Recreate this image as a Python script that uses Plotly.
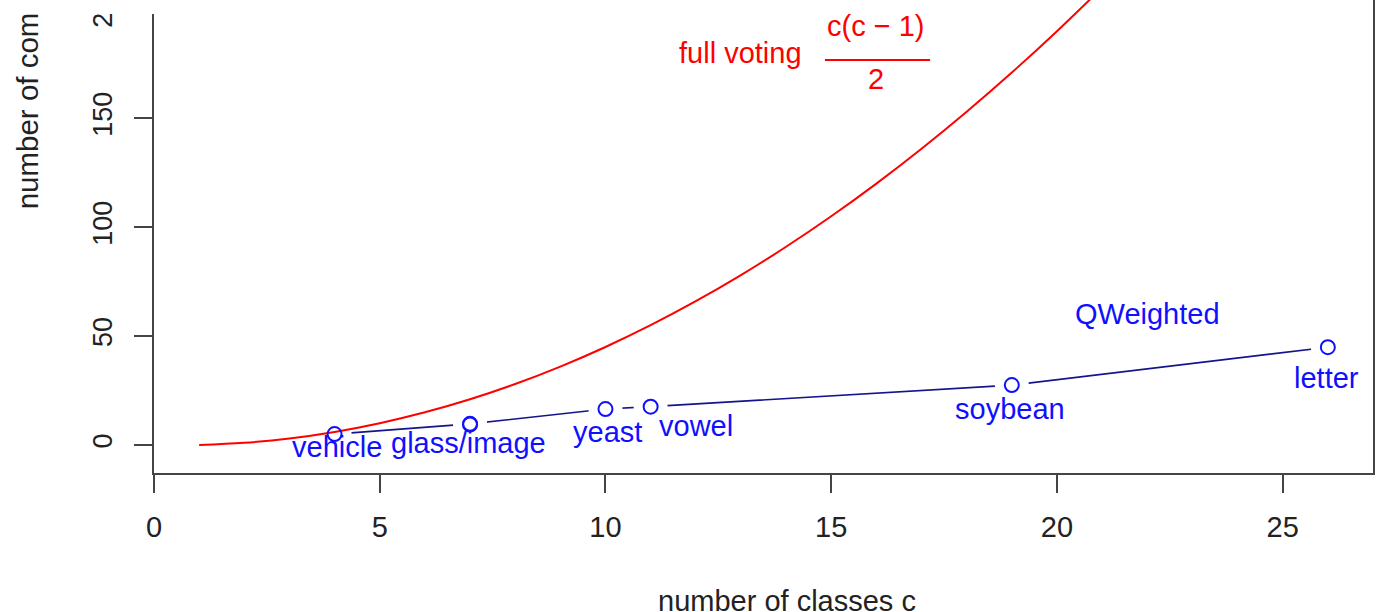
import plotly.graph_objects as go

# full voting: c(c-1)/2 for c = 1..26
full_c = list(range(1, 27))
full_y = [0, 1, 3, 6, 10, 15, 21, 28, 36, 45, 55, 66, 78, 91, 105, 120,
          136, 153, 171, 190, 210, 231, 253, 276, 300, 325]

# QWeighted average comparisons
qw_names = ["vehicle", "glass", "image", "yeast", "vowel", "soybean", "letter"]
qw_c = [4, 7, 7, 10, 11, 19, 26]
qw_y = [5.0, 9.4, 9.7, 16.5, 17.6, 27.5, 44.9]

x_ticks = [0, 5, 10, 15, 20, 25]
y_ticks = [0, 50, 100, 150, 200]

FONT = "Liberation Sans"
BLUE = "#1010ff"
RED = "#ff0000"
AX = "#444444"
H = 473  # plot area height in px

fig = go.Figure()

# connecting line (type "b")
fig.add_trace(go.Scatter(x=qw_c, y=qw_y, mode="lines",
                         line=dict(color="#14148c", width=1.6),
                         hoverinfo="skip", showlegend=False))
# white gaps around points
fig.add_trace(go.Scatter(x=qw_c, y=qw_y, mode="markers",
                         marker=dict(symbol="circle", size=34, color="white",
                                     line=dict(width=0)),
                         hoverinfo="skip", showlegend=False))
# full voting curve
fig.add_trace(go.Scatter(x=full_c, y=full_y, mode="lines",
                         line=dict(color=RED, width=2, shape="spline"),
                         hoverinfo="skip", showlegend=False))
# points
fig.add_trace(go.Scatter(x=qw_c, y=qw_y, mode="markers",
                         marker=dict(symbol="circle-open", size=14, color=BLUE,
                                     line=dict(width=2, color=BLUE)),
                         hoverinfo="skip", showlegend=False))

lbl_font = dict(family=FONT, size=29, color=BLUE)

# point labels: (text, x, y, xshift, yshift)
point_labels = [
    ("vehicle", 4, 5.0, 2, -13),
    ("glass/image", 7, 9.5, -2, -19),
    ("yeast", 10, 16.5, 2, -23),
    ("vowel", 11, 17.6, 45, -19),
    ("soybean", 19, 27.5, -2, -24),
    ("letter", 26, 44.9, -1, -31),
]
for t, x, y, xs, ys in point_labels:
    fig.add_annotation(x=x, y=y, text=t, showarrow=False, xshift=xs, yshift=ys,
                       xanchor="center", yanchor="middle", font=lbl_font)

fig.add_annotation(x=22.0, y=60, text="QWeighted", showarrow=False,
                   xanchor="center", yanchor="middle", font=lbl_font)

red_font = dict(family=FONT, size=29, color=RED)
fig.add_annotation(x=12.98, y=180, text="full voting", showarrow=False,
                   xanchor="center", yanchor="middle", font=red_font)
fig.add_annotation(x=16.0, y=192.4, text="c(c \u2212 1)", showarrow=False,
                   xanchor="center", yanchor="middle", font=red_font)
fig.add_annotation(x=16.0, y=168, text="2", showarrow=False,
                   xanchor="center", yanchor="middle", font=red_font)
fig.add_shape(type="line", x0=14.86, x1=17.19, y0=176.8, y1=176.8,
              line=dict(color=RED, width=2))

# y-axis label (only the visible part of the reference's clipped label)
fig.add_annotation(xref="paper", yref="paper", x=-0.1035, y=(H - 211) / H,
                   text="number of com", textangle=-90, showarrow=False,
                   xanchor="center", yanchor="bottom",
                   font=dict(family=FONT, size=29.5, color="#222222"))

# x-axis title
fig.add_annotation(xref="paper", yref="paper", x=(787 - 154) / 1219, y=-(601 - H) / H,
                   text="number of classes c", showarrow=False,
                   xanchor="center", yanchor="middle",
                   font=dict(family=FONT, size=29, color="#222222"))

# the reference's left margin is blank above 14 px
fig.add_shape(type="rect", xref="paper", yref="paper", layer="above",
              x0=-154 / 1219, x1=4 / 1219, y0=(H - 14) / H, y1=1.02,
              fillcolor="white", line=dict(width=0))

fig.update_xaxes(range=[0, 27], tickvals=x_ticks, ticktext=[str(v) for v in x_ticks],
                 ticks="outside", ticklen=18, tickwidth=2, tickcolor=AX,
                 showline=True, linecolor=AX, linewidth=2, mirror=False,
                 showgrid=False, zeroline=False, ticklabelstandoff=9,
                 automargin=False,
                 tickfont=dict(family=FONT, size=29, color="#222222"))
fig.update_yaxes(range=[-12.86, 204.3], tickvals=y_ticks, ticktext=[str(v) for v in y_ticks],
                 ticks="outside", ticklen=18, tickwidth=2, tickcolor=AX,
                 showline=True, linecolor=AX, linewidth=2, mirror=True,
                 showgrid=False, zeroline=False, tickangle=-90, ticklabelstandoff=11,
                 automargin=False, ticklabeloverflow="allow",
                 tickfont=dict(family=FONT, size=27, color="#222222"))

fig.update_layout(width=1380, height=612,
                  margin=dict(l=154, r=7, t=0, b=612 - H, pad=0, autoexpand=False),
                  plot_bgcolor="white", paper_bgcolor="white",
                  showlegend=False)

fig.write_html("out.html", config={"displayModeBar": False},
               post_script="document.body.style.margin='0';")
